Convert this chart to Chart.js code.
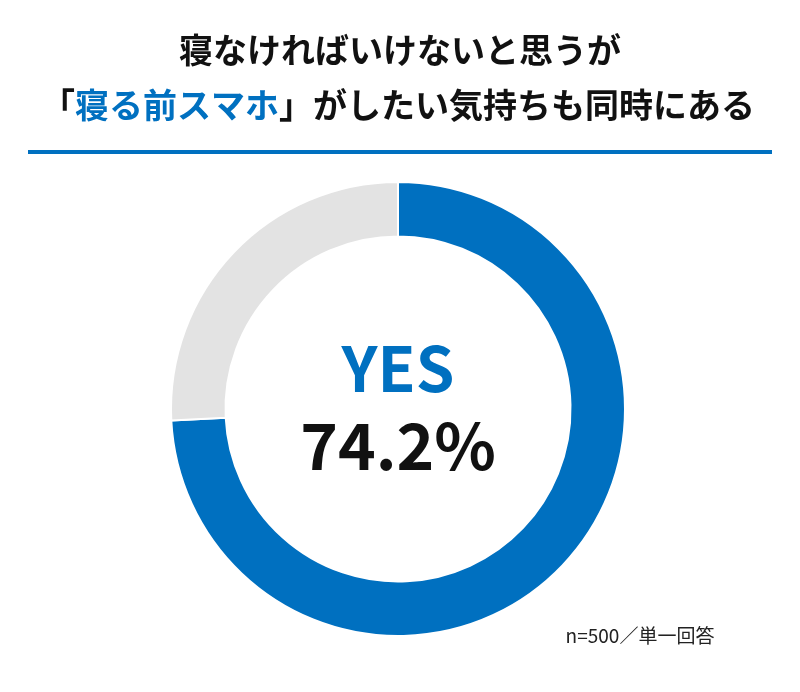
<!DOCTYPE html>
<html><head><meta charset="utf-8">
<script src="https://cdn.jsdelivr.net/npm/chart.js@4/dist/chart.umd.min.js"></script>
<style>html,body{margin:0;background:#fff}#wrap{width:800px;height:692px}</style>
</head><body><div id="wrap"><canvas id="c"></canvas></div>
<script>
const labels = ['YES', 'NO'];
const values = [74.2, 25.8];
const colors = ['#0070c0', '#e3e3e3'];
const titleLines = ['寝なければいけないと思うが', '「寝る前スマホ」がしたい気持ちも同時にある'];
const note = 'n=500／単一回答';
const FONT = '"Noto Sans CJK JP", "Noto Sans", sans-serif';

// title, rule, center labels, footnote
const decor = {
    id: 'decor',
    afterDraw(chart) {
        const ctx = chart.ctx;
        ctx.save();
        ctx.textAlign = 'center';
        ctx.textBaseline = 'middle';
        ctx.fillStyle = '#111';
        ctx.font = `bold 34px ${FONT}`;
        ctx.fillText(titleLines[0], 400, 50);
        // second line with blue highlight part
        const l2 = titleLines[1];
        const hl = '寝る前スマホ';
        const i = l2.indexOf(hl);
        const parts = [l2.slice(0, i), hl, l2.slice(i + hl.length)];
        const w = parts.map(p => ctx.measureText(p).width);
        let x = 398 - (w[0] + w[1] + w[2]) / 2;
        ctx.textAlign = 'left';
        parts.forEach((p, k) => {
            ctx.fillStyle = k === 1 ? '#0070c0' : '#111';
            ctx.fillText(p, x, 105);
            x += w[k];
        });
        ctx.fillStyle = '#0070c0';
        ctx.fillRect(28, 150, 744, 4);

        const cx = (chart.chartArea.left + chart.chartArea.right) / 2;
        ctx.textAlign = 'center';
        ctx.fillStyle = '#0070c0';
        ctx.font = `bold 62px ${FONT}`;
        ctx.fillText(labels[0], cx, 368);
        ctx.fillStyle = '#111';
        ctx.font = `bold 64px ${FONT}`;
        ctx.fillText(values[0].toFixed(1) + '%', cx, 446);
        ctx.font = `19px ${FONT}`;
        ctx.fillStyle = '#222';
        ctx.fillText(note, 640, 636);
        ctx.restore();
    }
};

new Chart(document.getElementById('c'), {
    type: 'doughnut',
    data: {
        labels: labels,
        datasets: [{
            data: values,
            backgroundColor: colors,
            borderColor: '#fff',
            borderWidth: 2
        }]
    },
    options: {
        responsive: true,
        maintainAspectRatio: false,
        animation: false,
        cutout: '76%',
        layout: { padding: { left: 170, right: 174, top: 181, bottom: 55 } },
        plugins: { legend: { display: false }, tooltip: { enabled: false } }
    },
    plugins: [decor]
});
</script></body></html>
